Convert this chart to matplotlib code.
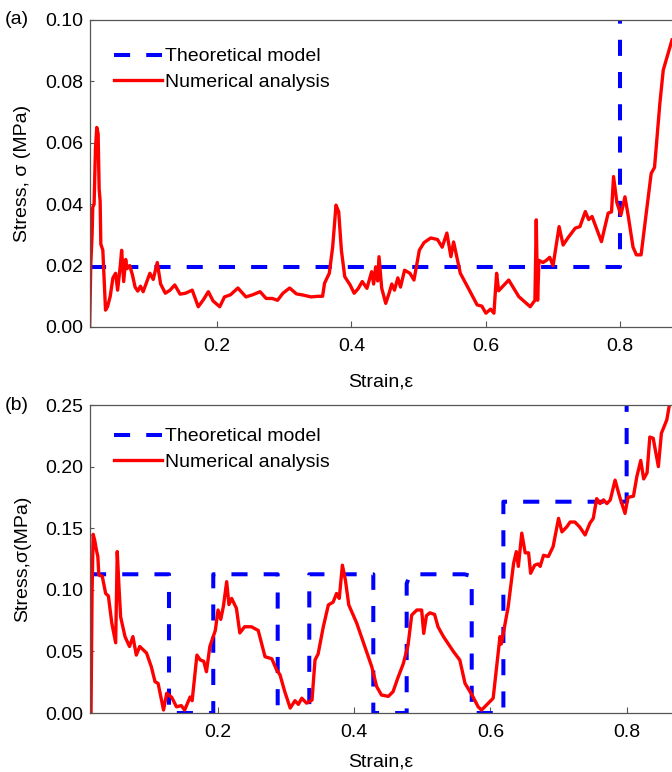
import matplotlib
matplotlib.use('Agg')
import matplotlib.pyplot as plt
import numpy as np

plt.rcParams['font.family'] = ['Liberation Sans', 'DejaVu Sans']
plt.rcParams['font.size'] = 14

# (a) numerical analysis: strain / stress (MPa)
strain_a = [0.0104, 0.0120, 0.0140, 0.0150, 0.0170, 0.0190, 0.0210, 0.0230, 0.0245, 0.0260,
            0.0270, 0.0300, 0.0320, 0.0340, 0.0370, 0.0410, 0.0450, 0.0490, 0.0520, 0.0560,
            0.0580, 0.0610, 0.0640, 0.0660, 0.0700, 0.0740, 0.0780, 0.0820, 0.0860, 0.0900,
            0.0950, 0.1000, 0.1050, 0.1110, 0.1160, 0.1230, 0.1300, 0.1370, 0.1450, 0.1530,
            0.1630, 0.1720, 0.1800, 0.1870, 0.1940, 0.2040, 0.2110, 0.2200, 0.2310, 0.2430,
            0.2530, 0.2640, 0.2730, 0.2820, 0.2900, 0.2980, 0.3080, 0.3180, 0.3280, 0.3400,
            0.3500, 0.3570, 0.3600, 0.3670, 0.3720, 0.3770, 0.3810, 0.3850, 0.3900, 0.3980,
            0.4040, 0.4100, 0.4160, 0.4230, 0.4300, 0.4330, 0.4360, 0.4390, 0.4410, 0.4450,
            0.4510, 0.4560, 0.4600, 0.4640, 0.4690, 0.4730, 0.4790, 0.4870, 0.4930, 0.5010,
            0.5080, 0.5180, 0.5280, 0.5350, 0.5420, 0.5480, 0.5520, 0.5620, 0.5740, 0.5870,
            0.5940, 0.6000, 0.6070, 0.6120, 0.6160, 0.6190, 0.6340, 0.6490, 0.6660, 0.6730,
            0.6750, 0.6770, 0.6790, 0.6850, 0.6900, 0.6950, 0.7000, 0.7090, 0.7150, 0.7220,
            0.7330, 0.7400, 0.7480, 0.7530, 0.7580, 0.7720, 0.7820, 0.7870, 0.7900, 0.7950,
            0.8010, 0.8070, 0.8120, 0.8190, 0.8240, 0.8310, 0.8460, 0.8510, 0.8590, 0.8640,
            0.8770]
stress_a = [0.0000, 0.0200, 0.0300, 0.0390, 0.0400, 0.0580, 0.0650, 0.0630, 0.0450, 0.0410,
            0.0270, 0.0250, 0.0150, 0.0055, 0.0066, 0.0100, 0.0160, 0.0175, 0.0120, 0.0200,
            0.0250, 0.0148, 0.0220, 0.0190, 0.0200, 0.0170, 0.0130, 0.0117, 0.0133, 0.0115,
            0.0145, 0.0175, 0.0155, 0.0210, 0.0140, 0.0110, 0.0120, 0.0137, 0.0107, 0.0110,
            0.0120, 0.0066, 0.0090, 0.0115, 0.0085, 0.0066, 0.0098, 0.0105, 0.0127, 0.0098,
            0.0105, 0.0115, 0.0093, 0.0093, 0.0087, 0.0110, 0.0127, 0.0108, 0.0104, 0.0098,
            0.0100, 0.0100, 0.0143, 0.0175, 0.0260, 0.0397, 0.0375, 0.0250, 0.0164, 0.0137,
            0.0110, 0.0125, 0.0148, 0.0126, 0.0180, 0.0140, 0.0196, 0.0150, 0.0229, 0.0126,
            0.0077, 0.0110, 0.0140, 0.0120, 0.0160, 0.0130, 0.0185, 0.0175, 0.0153, 0.0250,
            0.0275, 0.0290, 0.0285, 0.0260, 0.0306, 0.0229, 0.0277, 0.0175, 0.0126, 0.0072,
            0.0068, 0.0045, 0.0058, 0.0045, 0.0175, 0.0118, 0.0153, 0.0099, 0.0066, 0.0087,
            0.0349, 0.0087, 0.0217, 0.0210, 0.0217, 0.0227, 0.0200, 0.0327, 0.0267, 0.0290,
            0.0322, 0.0327, 0.0376, 0.0350, 0.0360, 0.0278, 0.0371, 0.0375, 0.0490, 0.0405,
            0.0365, 0.0424, 0.0360, 0.0260, 0.0235, 0.0235, 0.0500, 0.0520, 0.0730, 0.0837,
            0.0935]

# (a) theoretical model
theory_strain_a = [0.0104, 0.800, 0.800]
theory_stress_a = [0.0195, 0.0195, 0.110]

# (b) numerical analysis
strain_b = [0.0120, 0.0135, 0.0150, 0.0166, 0.0190, 0.0215, 0.0235, 0.0250, 0.0300, 0.0350,
            0.0390, 0.0440, 0.0497, 0.0520, 0.0545, 0.0570, 0.0634, 0.0700, 0.0750, 0.0800,
            0.0850, 0.0950, 0.1020, 0.1075, 0.1120, 0.1200, 0.1246, 0.1320, 0.1390, 0.1460,
            0.1510, 0.1590, 0.1620, 0.1690, 0.1740, 0.1790, 0.1830, 0.1880, 0.1960, 0.2000,
            0.2040, 0.2080, 0.2127, 0.2160, 0.2200, 0.2270, 0.2320, 0.2390, 0.2490, 0.2590,
            0.2690, 0.2790, 0.2860, 0.2910, 0.2980, 0.3060, 0.3130, 0.3180, 0.3230, 0.3300,
            0.3380, 0.3424, 0.3470, 0.3546, 0.3620, 0.3690, 0.3740, 0.3780, 0.3826, 0.3870,
            0.3920, 0.4036, 0.4160, 0.4257, 0.4330, 0.4400, 0.4500, 0.4570, 0.4640, 0.4720,
            0.4790, 0.4844, 0.4920, 0.4990, 0.5020, 0.5060, 0.5110, 0.5180, 0.5230, 0.5310,
            0.5455, 0.5550, 0.5627, 0.5730, 0.5820, 0.5870, 0.6040, 0.6140, 0.6160, 0.6260,
            0.6340, 0.6380, 0.6410, 0.6460, 0.6510, 0.6560, 0.6590, 0.6650, 0.6700, 0.6730,
            0.6780, 0.6850, 0.6920, 0.7000, 0.7050, 0.7120, 0.7170, 0.7240, 0.7310, 0.7390,
            0.7460, 0.7510, 0.7560, 0.7610, 0.7660, 0.7710, 0.7760, 0.7830, 0.7900, 0.7976,
            0.8020, 0.8100, 0.8150, 0.8207, 0.8250, 0.8300, 0.8340, 0.8390, 0.8466, 0.8510,
            0.8590, 0.8640]
stress_b = [0.000, 0.000, 0.097, 0.145, 0.140, 0.132, 0.127, 0.112, 0.111, 0.097,
            0.095, 0.073, 0.057, 0.131, 0.103, 0.078, 0.062, 0.054, 0.062, 0.047,
            0.054, 0.0487, 0.0376, 0.0254, 0.024, 0.0024, 0.016, 0.0127, 0.005, 0.006,
            0.0024, 0.013, 0.010, 0.047, 0.043, 0.042, 0.0335, 0.054, 0.067, 0.0836,
            0.076, 0.087, 0.1066, 0.088, 0.093, 0.085, 0.065, 0.070, 0.070, 0.067,
            0.0457, 0.044, 0.035, 0.031, 0.0173, 0.004, 0.010, 0.007, 0.012, 0.008,
            0.0105, 0.043, 0.048, 0.070, 0.0877, 0.090, 0.097, 0.093, 0.120, 0.108,
            0.0877, 0.073, 0.053, 0.0376, 0.0214, 0.0146, 0.0135, 0.0173, 0.0284, 0.040,
            0.055, 0.0795, 0.0836, 0.0836, 0.0646, 0.079, 0.0813, 0.080, 0.070, 0.062,
            0.050, 0.043, 0.024, 0.0146, 0.005, 0.0024, 0.012, 0.062, 0.056, 0.086,
            0.1215, 0.131, 0.119, 0.146, 0.130, 0.130, 0.1134, 0.120, 0.121, 0.119,
            0.128, 0.127, 0.135, 0.158, 0.147, 0.151, 0.155, 0.155, 0.151, 0.1445,
            0.154, 0.158, 0.174, 0.170, 0.173, 0.170, 0.173, 0.189, 0.175, 0.162,
            0.175, 0.176, 0.192, 0.205, 0.190, 0.195, 0.224, 0.223, 0.200, 0.227,
            0.238, 0.254]

# (b) theoretical model (stepwise)
theory_strain_b = [0.012, 0.128, 0.128, 0.193, 0.193, 0.2876, 0.2876, 0.300, 0.310, 0.322,
                   0.334, 0.334, 0.428, 0.428, 0.477, 0.477, 0.482, 0.562, 0.5725, 0.5725,
                   0.619, 0.619, 0.800, 0.800]
theory_stress_b = [0.1126, 0.1126, 0.0, 0.0, 0.1126, 0.1126, 0.004, -0.004, -0.006, -0.004,
                   0.004, 0.1126, 0.1126, 0.0, 0.0, 0.105, 0.1126, 0.1126, 0.111, 0.0,
                   0.0, 0.1715, 0.1715, 0.26]

W, H = 672, 772
fig = plt.figure(figsize=(W / 100, H / 100), dpi=100)


def add_panel(top_px, bottom_px):
    return fig.add_axes([90 / W, (H - bottom_px) / H, (W - 90) / W, (bottom_px - top_px) / H])


def style(ax, ylabel, yticks, xlim):
    for side in ['left', 'bottom', 'top']:
        ax.spines[side].set_color('#555555')
        ax.spines[side].set_linewidth(0.9)
    ax.spines['right'].set_visible(False)
    ax.set_xlim(*xlim)
    ax.set_ylim(yticks[0], yticks[-1])
    ax.set_xticks([0.2, 0.4, 0.6, 0.8])
    ax.set_xticklabels(['0.2', '0.4', '0.6', '0.8'])
    ax.set_yticks(yticks)
    ax.set_yticklabels(['%.2f' % v for v in yticks])
    ax.tick_params(axis='x', direction='in', length=4, width=0.8, color='#555555', pad=8)
    ax.tick_params(axis='y', direction='in', length=3, width=0.8, color='#555555', pad=5)
    ax.set_ylabel(ylabel, labelpad=10)


def add_legend(ax, top):
    ax.legend(loc='upper left', bbox_to_anchor=(0.0275, top), frameon=False, fontsize=14,
              handlelength=2.5, handletextpad=0.15, labelspacing=0.41, borderaxespad=0)


ax1 = add_panel(20, 327)
ax1.plot(theory_strain_a, theory_stress_a, color='#0000ff', lw=2.9, dashes=(4, 4),
         label='Theoretical model')
ax1.plot(strain_a, stress_a, color='#ff0000', lw=2.4, label='Numerical analysis')
style(ax1, 'Stress, σ (MPa)', [0.0, 0.02, 0.04, 0.06, 0.08, 0.10], (0.0109, 0.877))
ax1.set_xlabel('Strain,ε', labelpad=13)
add_legend(ax1, 0.935)

ax2 = add_panel(405, 713)
ax2.plot(theory_strain_b, theory_stress_b, color='#0000ff', lw=2.9, dashes=(4, 4),
         label='Theoretical model')
ax2.plot(strain_b, stress_b, color='#ff0000', lw=2.4, label='Numerical analysis')
style(ax2, 'Stress,σ(MPa)', [0.0, 0.05, 0.10, 0.15, 0.20, 0.25], (0.012, 0.8666))
ax2.set_xlabel('Strain,ε', labelpad=9)
add_legend(ax2, 0.951)

fig.text(5 / W, 1 - 20 / H, '(a)', fontsize=14, va='center', ha='left')
fig.text(5 / W, 1 - 405 / H, '(b)', fontsize=14, va='center', ha='left')

fig.savefig('out.png', dpi=100)
